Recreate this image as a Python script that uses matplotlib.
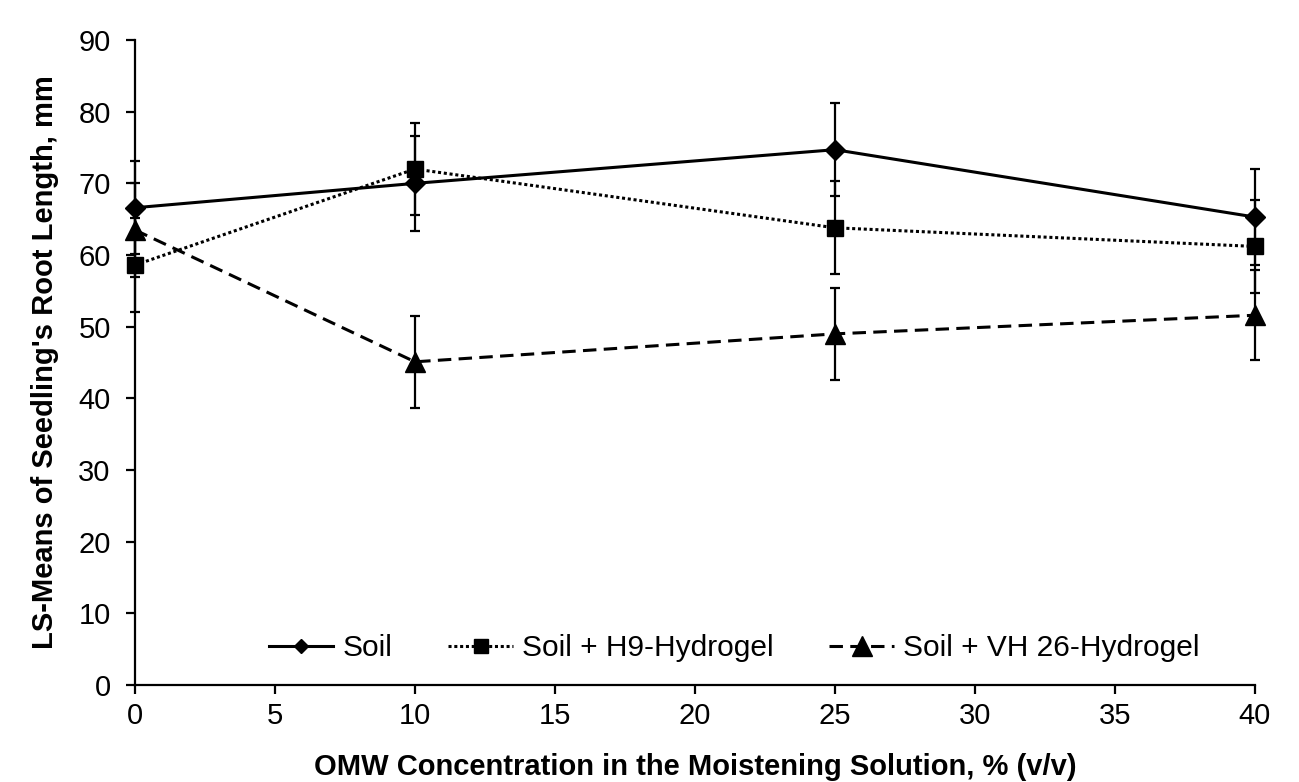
import matplotlib
matplotlib.use("Agg")
import matplotlib.pyplot as plt
from matplotlib.lines import Line2D

plt.rcParams["font.family"] = ["Liberation Sans", "DejaVu Sans"]

conc = [0, 10, 25, 40]
series_names = ["Soil", "Soil + H9-Hydrogel", "Soil + VH 26-Hydrogel"]
soil = [66.6, 70.0, 74.7, 65.3]
soil_err = [6.5, 6.6, 6.5, 6.7]
h9 = [58.6, 72.0, 63.8, 61.2]
h9_err = [6.5, 6.4, 6.5, 6.5]
vh26 = [63.5, 45.1, 49.0, 51.6]
vh26_err = [6.5, 6.4, 6.4, 6.3]

fig = plt.figure(figsize=(12.99, 7.82), dpi=100)
ax = fig.add_axes([0.1039, 0.124, 0.8622, 0.8248])

# (values, errors, marker, linestyle, markersize, legend markersize)
styles = [
    (soil, soil_err, "D", "-", 10, 7.5),
    (h9, h9_err, "s", (0, (1, 0.9)), 12, 9.5),
    (vh26, vh26_err, "^", (0, (4.4, 2.4)), 14, 14),
]
handles = []
for name, (vals, errs, mk, ls, ms, lms) in zip(series_names, styles):
    cont = ax.errorbar(conc, vals, yerr=errs, color="black", marker=mk, markersize=ms,
                       linestyle=ls, linewidth=2.2, elinewidth=1.6, capsize=3.6,
                       capthick=1.6)
    for art in cont.get_children():
        art.set_clip_on(False)
    handles.append(Line2D([], [], color="black", marker=mk, markersize=lms,
                          linestyle=ls, linewidth=2.2, label=name))

ax.set_xlim(0, 40)
ax.set_ylim(0, 90)
ax.set_xticks(range(0, 41, 5))
ax.set_yticks(range(0, 91, 10))
for side in ["top", "right"]:
    ax.spines[side].set_visible(False)
for side in ["left", "bottom"]:
    ax.spines[side].set_linewidth(1.6)
ax.tick_params(axis="both", labelsize=21, width=1.6, length=6.5, direction="out")
ax.tick_params(axis="x", pad=6)
ax.tick_params(axis="y", pad=11)

ax.set_xlabel("OMW Concentration in the Moistening Solution, % (v/v)",
              fontsize=21, fontweight="bold", labelpad=16)
ax.set_ylabel("LS-Means of Seedling's Root Length, mm",
              fontsize=21, fontweight="bold", labelpad=14)

ax.legend(handles=handles, loc="center", bbox_to_anchor=(0.535, 0.0574), ncol=3,
          frameon=False, fontsize=21.5, handlelength=2.17, columnspacing=1.87,
          handletextpad=0.3, numpoints=1)

fig.savefig("out.png", dpi=100)
